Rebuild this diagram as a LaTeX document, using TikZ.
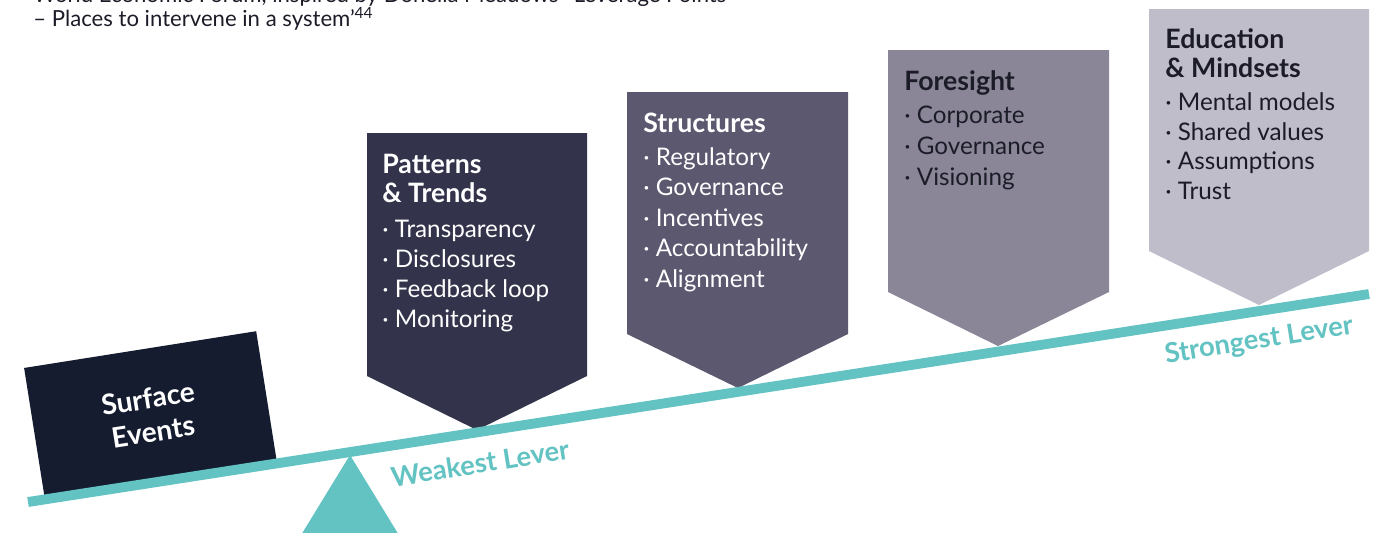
\documentclass[tikz,border=0pt]{standalone}
\usepackage{fontspec}
\setmainfont{Lato}
\usepackage{xcolor}
\definecolor{surfacenavy}{HTML}{151C30}
\definecolor{patternsblue}{HTML}{33344B}
\definecolor{structgray}{HTML}{5B586F}
\definecolor{foresightgray}{HTML}{8A8698}
\definecolor{mindsetgray}{HTML}{C0BDCA}
\definecolor{leverteal}{HTML}{63C2C2}
\definecolor{textdark}{HTML}{1C1C28}
\newcommand{\bul}{\textperiodcentered\ }

\begin{document}
\begin{tikzpicture}[x=0.02cm, y=-0.02cm,
  boxtitle/.style={anchor=base west, inner sep=0pt, font=\fontsize{15.2}{17}\selectfont\bfseries},
  boxitem/.style={anchor=base west, inner sep=0pt, font=\fontsize{13.8}{16}\selectfont},
  leverlabel/.style={text=leverteal, rotate=9, inner sep=0pt, font=\fontsize{15.6}{18}\selectfont\bfseries},
  srctext/.style={anchor=base west, inner sep=0pt, text=textdark, font=\fontsize{12.6}{14}\selectfont}]
  \useasboundingbox (0,0) rectangle (1389,532);

  % source caption (top line cut off by the page)
  \node[srctext] (src1) at (33,2) {World Economic Forum, inspired by Donella Meadows' `Leverage Points};
  \node[srctext] (src2) at (33,26) {– Places to intervene in a system'\textsuperscript{44}};

  % fulcrum
  \fill[leverteal] (350,455) -- (295,545) -- (405,545) -- cycle;

  % surface events block
  \node (surface) [fill=surfacenavy, rotate=9, minimum width=4.7cm, minimum height=2.65cm,
    text=white, align=center, font=\fontsize{16}{19}\selectfont\bfseries] at (150.5,415) {Surface\\Events};

  % lever boxes
  \fill[patternsblue] (367,133) -- (587,133) -- (587,376) -- (477,430) -- (367,376) -- cycle;
  \fill[structgray] (627,92) -- (848,92) -- (848,334) -- (738,388) -- (627,334) -- cycle;
  \fill[foresightgray] (888,50) -- (1109,50) -- (1109,292) -- (998,346) -- (888,292) -- cycle;
  \fill[mindsetgray] (1149,9) -- (1369,9) -- (1369,251) -- (1259,305) -- (1149,251) -- cycle;

  % lever
  \coordinate (lever-l) at (28,502);
  \coordinate (lever-r) at (1369,294);
  \draw[leverteal, line width=5.6pt] (lever-l) -- (lever-r);
  \node[leverlabel] (weak) at (480,463) {Weakest Lever};
  \node[leverlabel] (strong) at (1259,341) {Strongest Lever};

  % patterns & trends
  \node[boxtitle, text=white] (pt-t1) at (382,173) {Patterns};
  \node[boxtitle, text=white] (pt-t2) at (382,202) {\& Trends};
  \foreach \txt [count=\i] in {Transparency, Disclosures, Feedback loop, Monitoring}
    \node[boxitem, text=white] (pt-\i) at (382,{207+30*\i}) {\bul\txt};

  % structures
  \node[boxtitle, text=white] (st-t1) at (643,132) {Structures};
  \foreach \txt [count=\i] in {Regulatory, Governance, Incentives, Accountability, Alignment}
    \node[boxitem, text=white] (st-\i) at (643,{134.5+30.5*\i}) {\bul\txt};

  % foresight
  \node[boxtitle, text=textdark] (fs-t1) at (904,90) {Foresight};
  \foreach \txt [count=\i] in {Corporate, Governance, Visioning}
    \node[boxitem, text=textdark] (fs-\i) at (904,{92+31*\i}) {\bul\txt};

  % education & mindsets
  \node[boxtitle, text=textdark] (em-t1) at (1165,48) {Education};
  \node[boxtitle, text=textdark] (em-t2) at (1165,77) {\& Mindsets};
  \foreach \txt [count=\i] in {Mental models, Shared values, Assumptions, Trust}
    \node[boxitem, text=textdark] (em-\i) at (1165,{81+29.5*\i}) {\bul\txt};
\end{tikzpicture}
\end{document}
